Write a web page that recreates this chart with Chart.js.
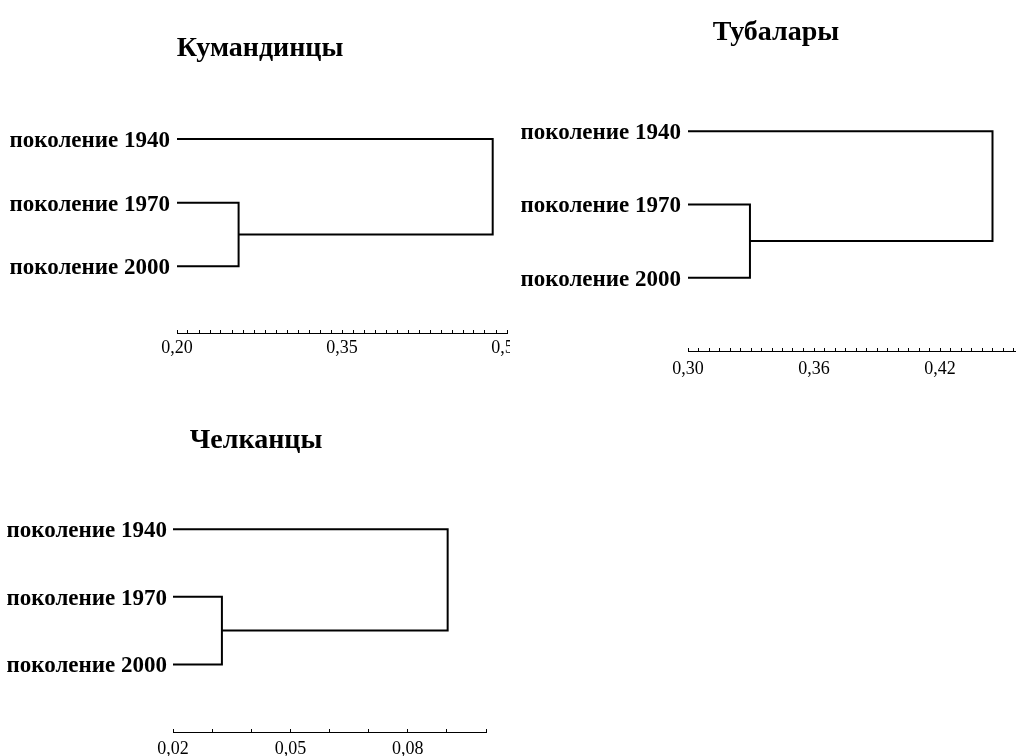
<!DOCTYPE html>
<html>
<head>
<meta charset="utf-8">
<title>Дендрограммы</title>
<script src="https://cdn.jsdelivr.net/npm/chart.js@4.4.1/dist/chart.umd.min.js"></script>
<style>
  html, body { margin: 0; padding: 0; background: #fff; width: 1020px; height: 756px; overflow: hidden; }
  .panel { position: absolute; overflow: hidden; }
  canvas { display: block; }
  .title {
    position: absolute; width: 300px; text-align: center; color: #000;
    font: bold 28px/33.6px 'Liberation Serif', 'Times New Roman', serif; white-space: nowrap;
  }
</style>
</head>
<body>
<div class="panel" style="left:0;top:0;width:510px;height:380px"><canvas id="kumandin" width="510" height="380"></canvas></div>
<div class="panel" style="left:515px;top:0;width:505px;height:400px"><canvas id="tubalar" width="505" height="400"></canvas></div>
<div class="panel" style="left:0;top:390px;width:510px;height:366px"><canvas id="chelkan" width="510" height="366"></canvas></div>
<div class="title" style="left:110px;top:30px">Кумандинцы</div>
<div class="title" style="left:626px;top:14px">Тубалары</div>
<div class="title" style="left:106px;top:422px">Челканцы</div>
<script>
// Leaves of each tree (top to bottom)
const leaves = ['поколение 1940', 'поколение 1970', 'поколение 2000'];

// Linkage distances: [1970 joins 2000, that cluster joins 1940]
const kumandinJoins = [0.256, 0.487];
const tubalarJoins = [0.3295, 0.445];
const chelkanJoins = [0.0325, 0.0902];

// Labelled ticks of the distance axes
const kumandinTicks = [0.20, 0.35, 0.50];
const tubalarTicks = [0.30, 0.36, 0.42];
const chelkanTicks = [0.02, 0.05, 0.08];

// Axis ends and minor tick spacing
const kumandinAxis = { max: 0.50, step: 0.01 };
const tubalarAxis = { max: 0.456, step: 0.005 };
const chelkanAxis = { max: 0.10, step: 0.01 };

const SERIF = "'Liberation Serif', 'Times New Roman', serif";
const fmt = v => v.toFixed(2).replace('.', ',');

// Two polylines: 1940 branch + link, and the 1970/2000 bracket
function branches(joins, base) {
  const pair = (1 + 2) / 2;
  return [
    [{ x: base, y: 0 }, { x: joins[1], y: 0 }, { x: joins[1], y: pair }, { x: joins[0], y: pair }],
    [{ x: base, y: 1 }, { x: joins[0], y: 1 }, { x: joins[0], y: 2 }, { x: base, y: 2 }]
  ];
}

function dendrogram(id, joins, ticks, axis, lay) {
  const base = ticks[0];
  const datasets = branches(joins, base).map(pts => ({
    data: pts,
    showLine: true,
    borderColor: '#000',
    borderWidth: 2,
    borderJoinStyle: 'miter',
    borderCapStyle: 'butt',
    pointRadius: 0,
    fill: false
  }));
  return new Chart(document.getElementById(id), {
    type: 'scatter',
    data: { datasets },
    options: {
      responsive: false,
      animation: false,
      events: [],
      layout: { padding: { left: 0, right: lay.padR, top: lay.padT, bottom: 0 } },
      plugins: {
        legend: { display: false },
        tooltip: { enabled: false },
        title: { display: false }
      },
      scales: {
        x: {
          type: 'linear',
          min: base,
          max: axis.max,
          afterFit(s) { s.height = lay.xHeight; s.paddingLeft = 0; s.paddingRight = 0; },
          ticks: {
            stepSize: axis.step,
            includeBounds: false,
            autoSkip: false,
            maxRotation: 0,
            padding: lay.xLabelPad,
            color: '#000',
            font: { family: SERIF, size: 18 },
            callback(v) {
              const m = ticks.find(t => Math.abs(t - v) < 1e-9);
              return m === undefined ? '' : fmt(m);
            }
          },
          grid: { drawOnChartArea: false, drawTicks: true, tickLength: -3, tickWidth: 1, tickColor: '#000' },
          border: { display: true, color: '#000', width: 1 }
        },
        y: {
          type: 'linear',
          reverse: true,
          min: lay.yMin,
          max: lay.yMax,
          afterFit(s) { s.width = lay.yWidth; s.paddingTop = 0; s.paddingBottom = 0; },
          afterBuildTicks(s) { s.ticks = leaves.map((_, i) => ({ value: i })); },
          ticks: {
            autoSkip: false,
            padding: lay.yLabelPad,
            labelOffset: 2,
            color: '#000',
            font: { family: SERIF, size: 23, weight: 'bold' },
            callback: v => leaves[v]
          },
          grid: { display: false, drawTicks: false },
          border: { display: false }
        }
      }
    }
  });
}

dendrogram('kumandin', kumandinJoins, kumandinTicks, kumandinAxis,
  { padR: 3, padT: 75.5, yWidth: 177, xHeight: 47, yMin: -1, yMax: 3.05, xLabelPad: 7, yLabelPad: 7 });
dendrogram('tubalar', tubalarJoins, tubalarTicks, tubalarAxis,
  { padR: 4.4, padT: 72.6, yWidth: 173, xHeight: 49, yMin: -0.8, yMax: 3.0, xLabelPad: 10.5, yLabelPad: 7 });
dendrogram('chelkan', chelkanJoins, chelkanTicks, chelkanAxis,
  { padR: 24, padT: 71.5, yWidth: 173, xHeight: 24, yMin: -1, yMax: 3.0, xLabelPad: 9, yLabelPad: 6 });
</script>
</body>
</html>
